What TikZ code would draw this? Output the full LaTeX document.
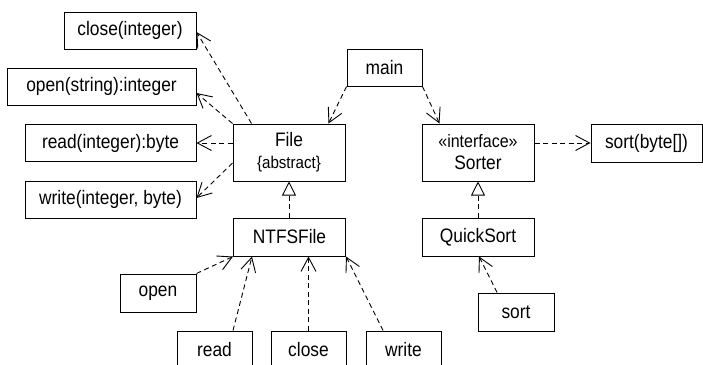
\documentclass[tikz,border=0pt]{standalone}
\usepackage{fontspec}
\setmainfont[FakeStretch=0.89]{Liberation Sans}
\usetikzlibrary{arrows.meta}

\tikzset{
  box/.style={draw, line width=1pt, rectangle, inner sep=0pt, align=center,
    font=\fontsize{19.5}{23}\selectfont},
  dep/.style={draw, line width=0.9pt, dash pattern=on 5pt off 3.5pt,
    -{Straight Barb[length=14pt, width=15pt, line width=0.9pt]}},
  real/.style={draw, line width=0.9pt, dash pattern=on 5pt off 3.5pt,
    -{Triangle[open, length=14pt, width=14pt, line width=0.9pt, fill=white]}}
}
\newcommand{\stereo}[2]{{\fontsize{#1}{#1}\selectfont #2}}

\begin{document}
\begin{tikzpicture}[x=1pt, y=-1pt]
  \useasboundingbox (0,0) rectangle (703,364);

  % operations of File
  \node[box, minimum width=132pt, minimum height=37pt] (fclose) at (130,30.5) {close(integer)};
  \node[box, minimum width=189pt, minimum height=37pt] (fopen)  at (101.5,86.5) {open(string):integer};
  \node[box, minimum width=171pt, minimum height=37pt] (fread)  at (110.5,143) {read(integer):byte};
  \node[box, minimum width=171pt, minimum height=37pt] (fwrite) at (110.5,199.5) {write(integer, byte)};

  % classes
  \node[box, minimum width=112pt, minimum height=57pt] (file) at (289,152.5)
    {File\\[-1pt]\stereo{17}{\{abstract\}}};
  \node[box, minimum width=75pt, minimum height=37pt] (main) at (384.5,67.5) {main};
  \node[box, minimum width=112pt, minimum height=57pt] (sorter) at (478,152.5)
    {\stereo{18}{«interface»}\\[-1pt]Sorter};
  \node[box, minimum width=111pt, minimum height=38pt] (sortop) at (646.5,143) {sort(byte[])};
  \node[box, minimum width=112pt, minimum height=38pt] (ntfs) at (289.5,237) {NTFSFile};
  \node[box, minimum width=112pt, minimum height=38pt] (quick) at (478,237) {QuickSort};

  % operations of NTFSFile and QuickSort
  \node[box, minimum width=76pt, minimum height=38pt] (nopen)  at (158,293) {open};
  \node[box, minimum width=75pt, minimum height=38pt] (nread)  at (214.5,350) {read};
  \node[box, minimum width=75pt, minimum height=38pt] (nclose) at (308.5,350) {close};
  \node[box, minimum width=75pt, minimum height=38pt] (nwrite) at (403.5,350) {write};
  \node[box, minimum width=76pt, minimum height=38pt] (qsort)  at (516,312) {sort};

  % dependencies of File
  \path[dep] ([xshift=19pt]file.north west) -- ([yshift=-1.5pt]fclose.east);
  \path[dep] (file.north west) -- ([yshift=-6.5pt]fopen.east);
  \path[dep] (fread.east -| file.west) -- (fread.east);
  \path[dep] ([yshift=-10.5pt]file.west) -- ([yshift=1.5pt]fwrite.east);

  % dependencies of main
  \path[dep] (main.south west) -- ([xshift=-17pt]file.north east);
  \path[dep] (main.south east) -- ([xshift=18pt]sorter.north west);

  % Sorter uses sort(byte[])
  \path[dep] (sortop.west -| sorter.east) -- (sortop.west);

  % realizations
  \path[real] (ntfs.north -| file.south) -- (file.south);
  \path[real] (quick.north) -- (sorter.south);

  % NTFSFile operations
  \path[dep] (nopen.north east) -- (ntfs.south west);
  \path[dep] ([xshift=18.5pt]nread.north) -- ([xshift=19pt]ntfs.south west);
  \path[dep] (nclose.north) -- (nclose.north |- ntfs.south);
  \path[dep] ([xshift=-20.5pt]nwrite.north) -- (ntfs.south east);

  % QuickSort operation
  \path[dep] ([xshift=-19pt]qsort.north) -- ([xshift=1pt]quick.south);
\end{tikzpicture}
\end{document}
